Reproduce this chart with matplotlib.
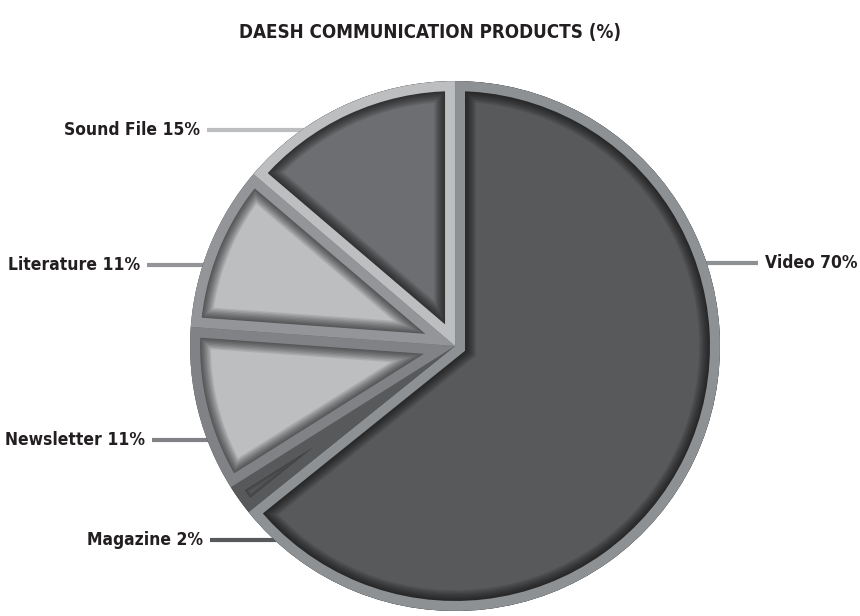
import numpy as np
import matplotlib.pyplot as plt
from matplotlib.patches import Wedge

# data, clockwise from 12 o'clock
labels = ['Video', 'Magazine', 'Newsletter', 'Literature', 'Sound File']
values = [70, 2, 11, 11, 15]

# styles
fills = ['#58595b', '#939598', '#bcbec0', '#bcbec0', '#6d6e71']
frames = ['#8e9194', '#58595b', '#808285', '#939598', '#bcbec0']
text_color = '#231f20'

fig = plt.figure(figsize=(8.6, 6.16), dpi=100)
ax = fig.add_axes([0, 0, 1, 1])

wedges, _ = ax.pie(values, startangle=90, counterclock=False, colors=fills,
                   radius=1, wedgeprops=dict(linewidth=0))

px = 72 / fig.dpi  # points per pixel
frame_px = 10
for w, fr in zip(wedges, frames):
    c, r, t1, t2 = w.center, w.r, w.theta1, w.theta2
    # inner shadow: stacked strokes clipped to the wedge
    for k in range(8):
        lw = (frame_px + 1 + k * 1.4) * 2 * px
        s = Wedge(c, r, t1, t2, facecolor='none', edgecolor='black',
                  alpha=0.09, lw=lw, zorder=3)
        ax.add_patch(s)
        s.set_clip_path(w)
    f = Wedge(c, r, t1, t2, facecolor='none', edgecolor=fr,
              lw=frame_px * 2 * px, zorder=4)
    ax.add_patch(f)
    f.set_clip_path(f)

# label placement (data units, pie radius = 1)
label_pos = {
    'Video': (1.17, 0.313, 'left'),
    'Magazine': (-0.951, -0.732, 'right'),
    'Newsletter': (-1.17, -0.355, 'right'),
    'Literature': (-1.189, 0.306, 'right'),
    'Sound File': (-0.962, 0.815, 'right'),
}
font = dict(family='DejaVu Sans', fontstretch='condensed', fontweight='bold',
            fontsize=12.5, color=text_color)
for lab, val, fr in zip(labels, values, frames):
    x, y, ha = label_pos[lab]
    edge = np.sqrt(1 - y ** 2)
    if ha == 'left':
        x0, x1 = edge - 0.02, x - 0.027
    else:
        x0, x1 = -edge + 0.02, x + 0.027
    ax.plot([x0, x1], [y, y], color=fr, lw=3, solid_capstyle='butt', zorder=2)
    ax.text(x, y, f'{lab} {val}%', ha=ha, va='center', **font)

fig.text(0.5, 0.948, 'DAESH COMMUNICATION PRODUCTS (%)', ha='center', va='center',
         family='DejaVu Sans', fontstretch='condensed', fontweight='bold',
         fontsize=13.5, color=text_color)

ax.set_xlim(-1.717, 1.528)
ax.set_ylim(-1.019, 1.306)
ax.set_aspect('equal')
ax.axis('off')

fig.savefig('out.png', dpi=100, facecolor='white')
